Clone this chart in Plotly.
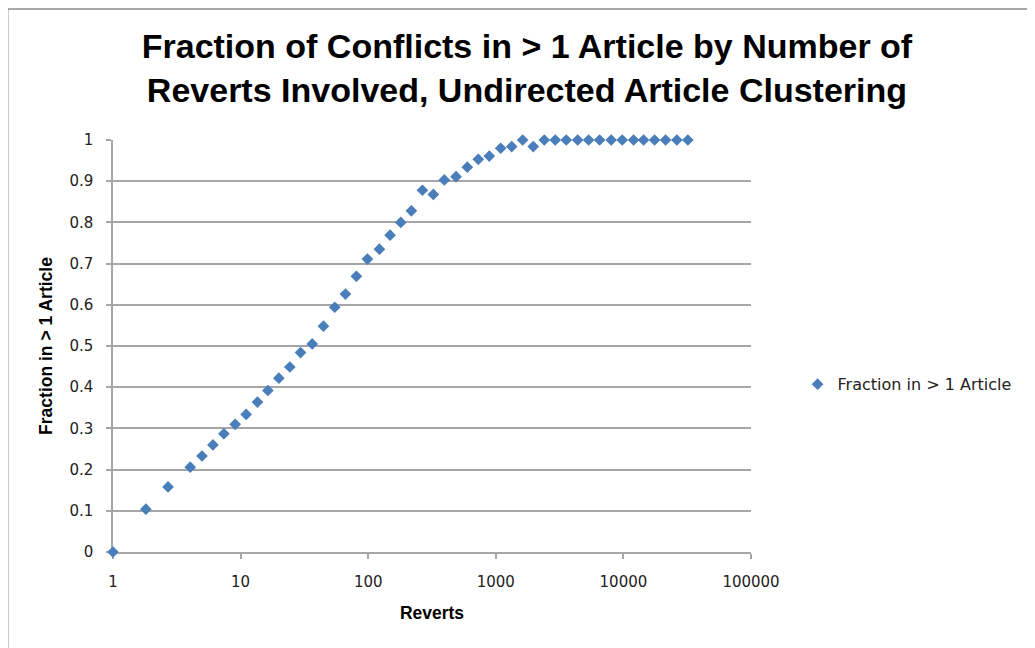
import plotly.graph_objects as go

# Reverts per bin (log-spaced) and fraction of conflicts spanning > 1 article
reverts = [1, 1.81, 2.70, 4.03, 4.98, 6.07, 7.40, 9.07, 11.06, 13.56,
           16.36, 19.95, 24.3, 29.5, 36.4, 44.6, 54.7, 66.3, 80.8, 98.6,
           122.4, 148.4, 180, 218, 266, 324, 395, 488, 598, 729,
           889, 1092, 1332, 1624, 1966, 2398, 2923, 3566, 4379, 5340,
           6510, 8024, 9786, 12020, 14395, 17550, 21403, 26242, 32000]
fraction = [0, 0.104, 0.158, 0.206, 0.233, 0.26, 0.287, 0.31, 0.334, 0.364,
            0.392, 0.422, 0.449, 0.484, 0.505, 0.548, 0.594, 0.626, 0.669, 0.711,
            0.735, 0.769, 0.8, 0.828, 0.878, 0.868, 0.903, 0.911, 0.934, 0.953,
            0.961, 0.98, 0.984, 1.0, 0.984, 1.0, 1.0, 1.0, 1.0, 1.0,
            1.0, 1.0, 1.0, 1.0, 1.0, 1.0, 1.0, 1.0, 1.0]

x_ticks = [1, 10, 100, 1000, 10000, 100000]
x_tick_labels = ["1", "10", "100", "1000", "10000", "100000"]
y_ticks = [0, 0.1, 0.2, 0.3, 0.4, 0.5, 0.6, 0.7, 0.8, 0.9, 1]
y_tick_labels = ["0", "0.1", "0.2", "0.3", "0.4", "0.5", "0.6", "0.7", "0.8", "0.9", "1"]

title_font = "Liberation Sans, Arial, sans-serif"
tick_font = "DejaVu Sans, Verdana, sans-serif"
grid = "#a6a6a6"

fig = go.Figure()
fig.add_trace(go.Scatter(
    x=reverts, y=fraction, mode="markers",
    marker=dict(symbol="diamond", color="#4a7ebb", size=9, line=dict(width=0)),
    name="Fraction in > 1 Article",
    cliponaxis=False,
))

fig.update_layout(
    width=1035, height=648,
    margin=dict(l=105, r=291.5, t=132, b=104),
    paper_bgcolor="white", plot_bgcolor="white",
    title=dict(
        text="<b>Fraction of Conflicts in > 1 Article by Number of<br>Reverts Involved, Undirected Article Clustering</b>",
        x=0.5014, xanchor="center", y=0.9228, yanchor="middle",
        font=dict(family=title_font, size=34, color="black"),
    ),
    showlegend=True,
    legend=dict(x=1.073, y=0.407, xanchor="left", yanchor="middle",
                font=dict(family=tick_font, size=16, color="#222"),
                bgcolor="rgba(0,0,0,0)", itemwidth=30),
    xaxis=dict(
        type="log", range=[0, 5],
        tickvals=x_ticks, ticktext=x_tick_labels,
        ticks="outside", ticklen=5, tickcolor=grid, tickwidth=1.5,
        showline=True, linecolor=grid, linewidth=1.5,
        showgrid=False, zeroline=False, layer="below traces",
        tickfont=dict(family=tick_font, size=15, color="#222"),
        ticklabelstandoff=10,
        title=dict(text="<b>Reverts</b>", standoff=17,
                   font=dict(family=title_font, size=17.5, color="black")),
    ),
    yaxis=dict(
        range=[0, 1],
        tickvals=y_ticks, ticktext=y_tick_labels,
        ticks="outside", ticklen=5, tickcolor=grid, tickwidth=1.5,
        showline=True, linecolor=grid, linewidth=1.5,
        showgrid=True, gridcolor=grid, gridwidth=1.5,
        zeroline=False, layer="below traces",
        tickfont=dict(family=tick_font, size=15, color="#222"),
        ticklabelstandoff=10,
        title=dict(text="<b>Fraction in > 1 Article</b>", standoff=12,
                   font=dict(family=title_font, size=17.5, color="black")),
    ),
)

# outer chart border (Excel chart area frame)
fig.add_shape(type="rect", xref="paper", yref="paper",
              x0=-0.165, x1=1.8, y0=-0.4, y1=1.318,
              line=dict(color="#8c8c8c", width=1.5), layer="below")

fig.write_html("out.html")
